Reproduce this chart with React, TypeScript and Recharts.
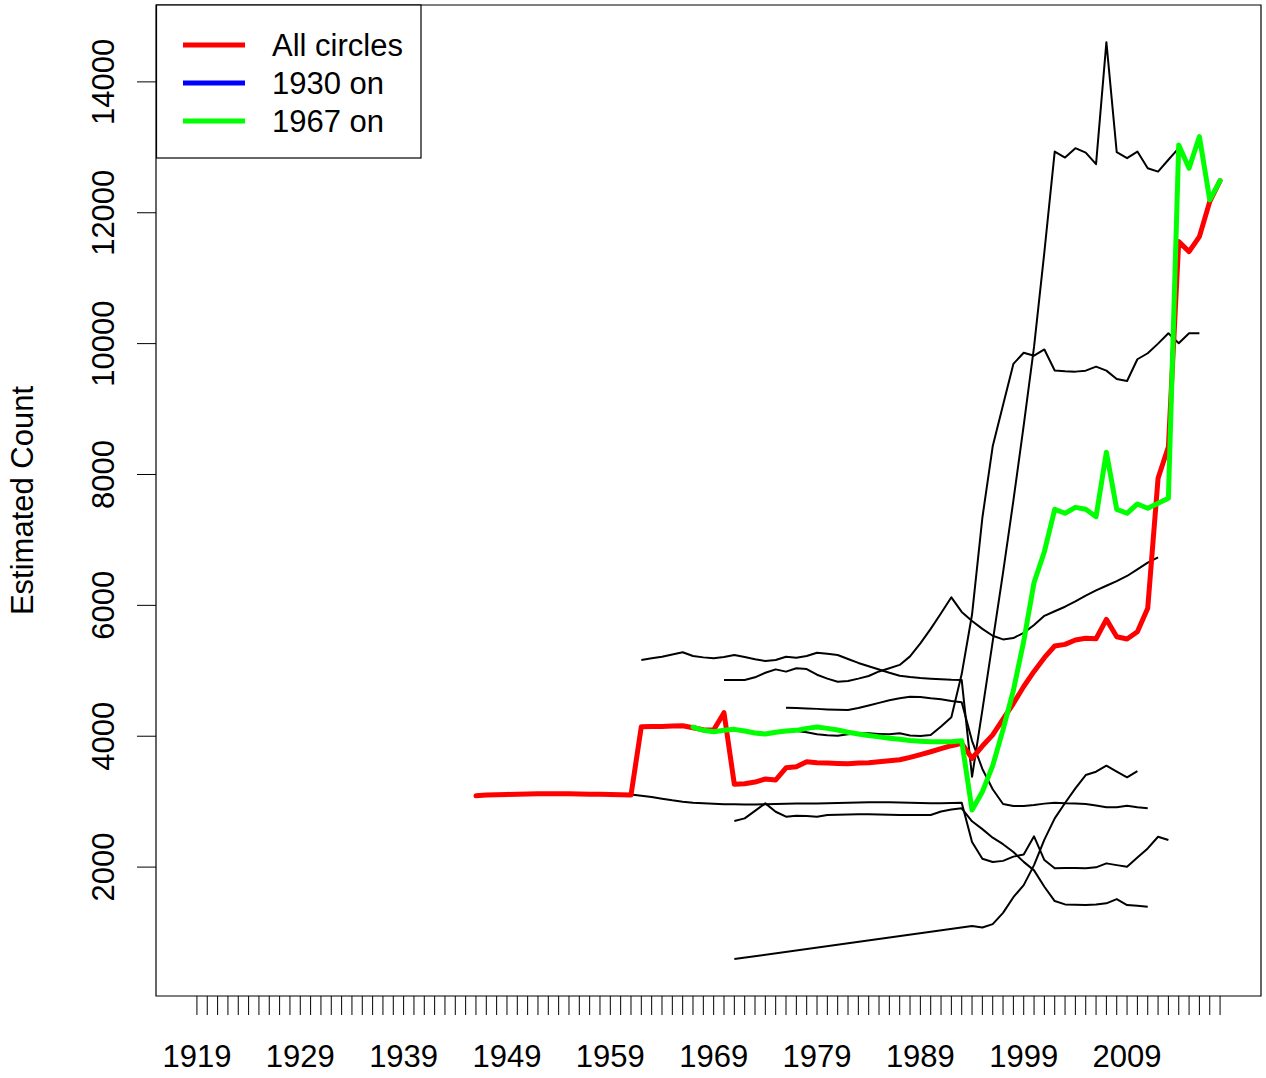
import React from 'react';
import { LineChart, Line, XAxis, YAxis, ReferenceArea } from 'recharts';

const FONT = '"Liberation Sans", Arial, Helvetica, sans-serif';

// "All circles" total, yearly from 1946
const allCirclesStart = 1946;
const allCircles = [
  3090, 3100, 3105, 3110, 3115, 3118, 3120, 3120, 3120, 3120, 3118, 3115, 3112, 3108, 3104, 3100,
  4145, 4148, 4150, 4155, 4160, 4130, 4100, 4094, 4359, 3265, 3275, 3300, 3346, 3331,
  3518, 3534, 3610, 3595, 3590, 3585, 3580, 3590, 3595, 3610, 3625, 3640, 3677, 3720,
  3763, 3810, 3855, 3890, 3662, 3850, 4020, 4260, 4500, 4760, 4990, 5200, 5379, 5404,
  5470, 5496, 5490, 5786, 5521, 5486, 5597, 5955, 7942, 8425, 11559, 11406, 11635, 12170, 12491,
];

// "1930 on" has no values drawn in the figure
const from1930Start = 1930;
const from1930: number[] = [];

// "1967 on"
const from1967Start = 1967;
const from1967 = [
  4140, 4090, 4070, 4090, 4105, 4080, 4050, 4034, 4060, 4080, 4090, 4120, 4140, 4120,
  4095, 4060, 4034, 4010, 3990, 3970, 3953, 3935, 3925, 3916, 3916, 3916, 3930, 2872,
  3152, 3550, 4100, 4700, 5450, 6350, 6820, 7468, 7407, 7498, 7468, 7355, 8340, 7468,
  7407, 7550, 7484, 7560, 7636, 13037, 12681, 13164, 12196, 12491,
];

// individual circles (thin black lines)
const circleAStart = 1961;
const circleA = [
  3110, 3090, 3070, 3045, 3020, 3000, 2985, 2975, 2968, 2962, 2960, 2958, 2955, 2960,
  2965, 2968, 2970, 2970, 2972, 2975, 2980, 2985, 2988, 2990, 2990, 2990, 2988, 2985,
  2980, 2975, 2975, 2980, 2985, 2385, 2128, 2077, 2095, 2160, 2192, 2470, 2107, 1981,
  1985, 1985, 1981, 1996, 2057, 2030, 2005, 2145, 2286, 2464, 2413,
];

const circleBStart = 1962;
const circleB = [
  5165, 5190, 5215, 5250, 5283, 5226, 5205, 5191, 5210, 5241, 5210, 5175, 5149, 5165,
  5215, 5200, 5226, 5276, 5260, 5241, 5180, 5120, 5070, 5020, 4970, 4925, 4905, 4890,
  4880, 4870, 4862, 4858, 3381, 4400, 5450, 6500, 7600, 8750, 9950, 11400, 12935, 12843,
  12987, 12919, 12742, 14607, 12925, 12834, 12935, 12681, 12629, 12810, 12987,
];

const circleCStart = 1970;
const circleC = [
  4859, 4859, 4860, 4900, 4970, 5022, 4987, 5038, 5027, 4940, 4880, 4833, 4844, 4880,
  4920, 4990, 5040, 5090, 5220, 5420, 5640, 5880, 6123, 5900, 5760, 5640, 5536, 5480,
  5500, 5580, 5700, 5840, 5910, 5979, 6060, 6150, 6230, 6300, 6370, 6449, 6550, 6652, 6735,
];

const circleDStart = 1976;
const circleD = [
  4436, 4430, 4425, 4418, 4410, 4405, 4400, 4430, 4470, 4510, 4550, 4580, 4604, 4600,
  4580, 4565, 4540, 4520, 3930, 3500, 3190, 2964, 2935, 2935, 2950, 2970, 2984, 2975,
  2970, 2964, 2940, 2913, 2913, 2938, 2913, 2898,
];

const circleEStart = 1977;
const circleE = [
  4080, 4060, 4029, 4015, 4007, 4030, 4044, 4044, 4035, 4029, 4044, 4010, 4003, 4018,
  4150, 4290, 4950, 5860, 7339, 8431, 9063, 9690, 9861, 9815, 9911, 9590, 9578, 9572,
  9587, 9648, 9587, 9460, 9429, 9761, 9853, 10000, 10159, 10006, 10159, 10159,
];

const circleFStart = 1971;
const circleF = [
  2704, 2745, 2860, 2974, 2846, 2770, 2786, 2780, 2770, 2796, 2800, 2805, 2806, 2806,
  2805, 2800, 2796, 2796, 2796, 2796, 2850, 2880, 2898, 2700, 2580, 2450, 2350, 2230,
  2080, 1950, 1700, 1481, 1430, 1425, 1420, 1430, 1446, 1511, 1420, 1410, 1394,
];

// this one is a straight run from 1971 to 1994, then yearly
const circleGYears = [1971, 1994, 1995, 1996, 1997, 1998, 1999, 2000, 2001, 2002, 2003, 2004, 2005, 2006, 2007, 2008, 2009, 2010];
const circleG = [594, 1100, 1078, 1129, 1300, 1540, 1725, 2030, 2420, 2745, 2980, 3204, 3407, 3458, 3550, 3460, 3372, 3468];

const xDomain: [number, number] = [1915.04, 2021.96];
const yDomain: [number, number] = [30, 15175];
const xTickYears = Array.from({ length: 100 }, (_, i) => 1919 + i);
const xLabelYears = [1919, 1929, 1939, 1949, 1959, 1969, 1979, 1989, 1999, 2009];
const yTicks = [2000, 4000, 6000, 8000, 10000, 12000, 14000];

const toPoints = (start: number, values: number[]) =>
  values.map((v, i) => ({ year: start + i, value: v }));

const blackLines = [
  toPoints(circleAStart, circleA),
  toPoints(circleBStart, circleB),
  toPoints(circleCStart, circleC),
  toPoints(circleDStart, circleD),
  toPoints(circleEStart, circleE),
  toPoints(circleFStart, circleF),
  circleGYears.map((y, i) => ({ year: y, value: circleG[i] })),
];

const legendItems = [
  { name: 'All circles', color: '#ff0000' },
  { name: '1930 on', color: '#0000ff' },
  { name: '1967 on', color: '#00ff00' },
];

const XTick = ({ x, y, payload }: any) => {
  if (!xLabelYears.includes(payload.value)) return null;
  return (
    <text x={x} y={y + 52} textAnchor="middle" fontSize={31} fontFamily={FONT} fill="#000">
      {payload.value}
    </text>
  );
};

const YTick = ({ x, y, payload }: any) => (
  <text
    transform={`translate(${x - 23},${y}) rotate(-90)`}
    textAnchor="middle"
    fontSize={31}
    fontFamily={FONT}
    fill="#000"
  >
    {payload.value}
  </text>
);

const YLabel = ({ viewBox }: any) => {
  const cy = viewBox.y + viewBox.height / 2;
  return (
    <text
      transform={`translate(33,${cy}) rotate(-90)`}
      textAnchor="middle"
      fontSize={31}
      fontFamily={FONT}
      fill="#000"
    >
      Estimated Count
    </text>
  );
};

const App = () => {
  return (
    <div style={{ position: 'relative', width: 1266, height: 1078, background: '#fff' }}>
      <style>{`body { margin: 0; }`}</style>
      <LineChart width={1266} height={1078} margin={{ top: 5, right: 5, bottom: 0, left: 0 }}>
        <XAxis
          type="number"
          dataKey="year"
          domain={xDomain}
          allowDataOverflow
          ticks={xTickYears}
          interval={0}
          height={82}
          tickSize={19}
          tickMargin={0}
          axisLine={false}
          tickLine={{ stroke: '#000', strokeWidth: 1 }}
          tick={<XTick />}
        />
        <YAxis
          type="number"
          dataKey="value"
          domain={yDomain}
          allowDataOverflow
          ticks={yTicks}
          interval={0}
          width={156}
          tickSize={19}
          tickMargin={0}
          axisLine={false}
          tickLine={{ stroke: '#000', strokeWidth: 1 }}
          tick={<YTick />}
          label={<YLabel />}
        />
        <ReferenceArea
          x1={xDomain[0]}
          x2={xDomain[1]}
          y1={yDomain[0]}
          y2={yDomain[1]}
          fill="none"
          fillOpacity={0}
          stroke="#000"
          strokeWidth={1.2}
          ifOverflow="visible"
        />
        {blackLines.map((pts, i) => (
          <Line
            key={i}
            data={pts}
            dataKey="value"
            type="linear"
            stroke="#000"
            strokeWidth={2}
            strokeLinejoin="round"
            dot={false}
            activeDot={false}
            isAnimationActive={false}
          />
        ))}
        <Line
          data={toPoints(allCirclesStart, allCircles)}
          dataKey="value"
          type="linear"
          stroke="#ff0000"
          strokeWidth={5}
          strokeLinejoin="round"
          strokeLinecap="round"
          dot={false}
          activeDot={false}
          isAnimationActive={false}
        />
        <Line
          data={toPoints(from1930Start, from1930)}
          dataKey="value"
          type="linear"
          stroke="#0000ff"
          strokeWidth={5}
          dot={false}
          activeDot={false}
          isAnimationActive={false}
        />
        <Line
          data={toPoints(from1967Start, from1967)}
          dataKey="value"
          type="linear"
          stroke="#00ff00"
          strokeWidth={5}
          strokeLinejoin="round"
          strokeLinecap="round"
          dot={false}
          activeDot={false}
          isAnimationActive={false}
        />
      </LineChart>
      <svg
        width={266}
        height={155}
        style={{ position: 'absolute', left: 156, top: 4 }}
      >
        <rect x={0.5} y={1} width={264.5} height={153} fill="#fff" stroke="#000" strokeWidth={1.2} />
        {legendItems.map((item, i) => (
          <g key={item.name}>
            <line x1={27} x2={89} y1={41 + i * 38} y2={41 + i * 38} stroke={item.color} strokeWidth={5} />
            <text x={116} y={52 + i * 38} fontSize={31} fontFamily={FONT} fill="#000">
              {item.name}
            </text>
          </g>
        ))}
      </svg>
    </div>
  );
};

export default App;
